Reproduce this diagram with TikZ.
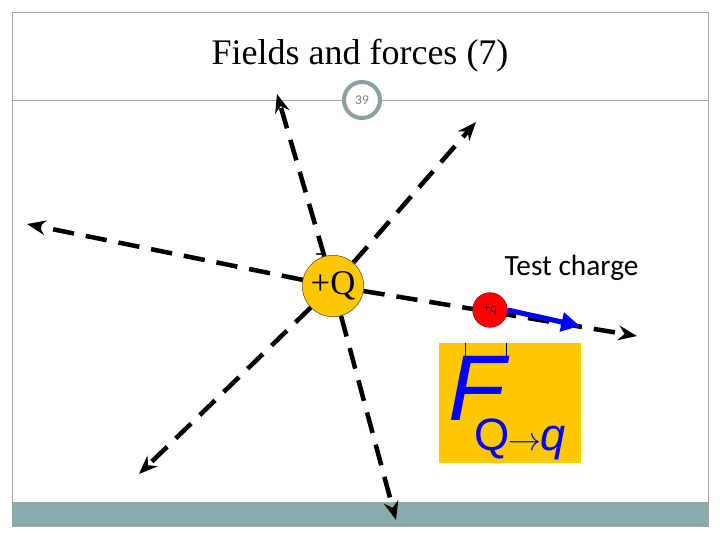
\documentclass[tikz,border=0pt]{standalone}
\usepackage{fontspec}
\setmainfont{Liberation Serif}
\newfontfamily\carlitofont{Carlito}
\newfontfamily\hvfont{Liberation Sans}
\usetikzlibrary{arrows.meta}
\begin{document}
\begin{tikzpicture}[x=0.75pt,y=-0.75pt,
  fl/.style={line width=3.4pt,dash pattern=on 16pt off 9pt,-{Stealth[length=14pt,width=11pt]}}]
\useasboundingbox (0,0) rectangle (720,540);
\draw[gray!70] (12,12) rectangle (708,526);
\fill[fill={rgb,255:red,138;green,171;blue,171}] (12,502) rectangle (708,526);
\draw[gray!70] (12,100) -- (708,100);
\node (title) at (360,56) {\fontsize{27}{30}\selectfont Fields and forces (7)};
\node[circle,draw={rgb,255:red,138;green,160;blue,160},line width=3pt,fill=white,minimum size=27pt,inner sep=0pt,text=gray] (pg) at (362,100) {\carlitofont\fontsize{10}{11}\selectfont 39};
\node[circle,fill={rgb,255:red,255;green,200;blue,0},draw=black!70,minimum size=46pt,inner sep=0pt] (Q) at (333,286) {};
\coordinate (a1) at (277,94);
\coordinate (a2) at (476,122);
\coordinate (a3) at (27,224);
\coordinate (a4) at (139,474);
\coordinate (a5) at (396,520);
\coordinate (a6) at (637,336);
\foreach \t in {a1,a2,a3,a4,a5,a6} \draw[fl] (Q) -- (\t);
\node at (Q) {\fontsize{26}{28}\selectfont +Q};
\node at (319,257) {\fontsize{16}{16}\selectfont -};
\node[circle,fill=red,draw=red!60!black,minimum size=26pt,inner sep=0pt] (q) at (490,310) {\fontsize{10}{11}\selectfont +q};
\coordinate (fe) at (580,326);
\draw[blue,line width=3.8pt,-{Triangle[length=14pt,width=14pt]}] (q.east) -- (fe);
\node[anchor=west] (tc) at (500,268) {\carlitofont\fontsize{22}{24}\selectfont Test charge};
\fill[fill={rgb,255:red,255;green,200;blue,0}] (439,343) rectangle (581,463);
\draw[blue!50!black] (465,343) -- (465,362) -- (506,362) -- (506,343);
\node[blue,anchor=base west,inner sep=0pt] (F) at (448,420) {\hvfont\itshape\fontsize{70}{70}\selectfont F};
\node[blue,anchor=base west,inner sep=0pt] (sub) at (474,450) {\hvfont\fontsize{34}{34}\selectfont Q\kern-1pt$\mathbf{\rightarrow}$\kern-1pt\itshape q};
\end{tikzpicture}
\end{document}
